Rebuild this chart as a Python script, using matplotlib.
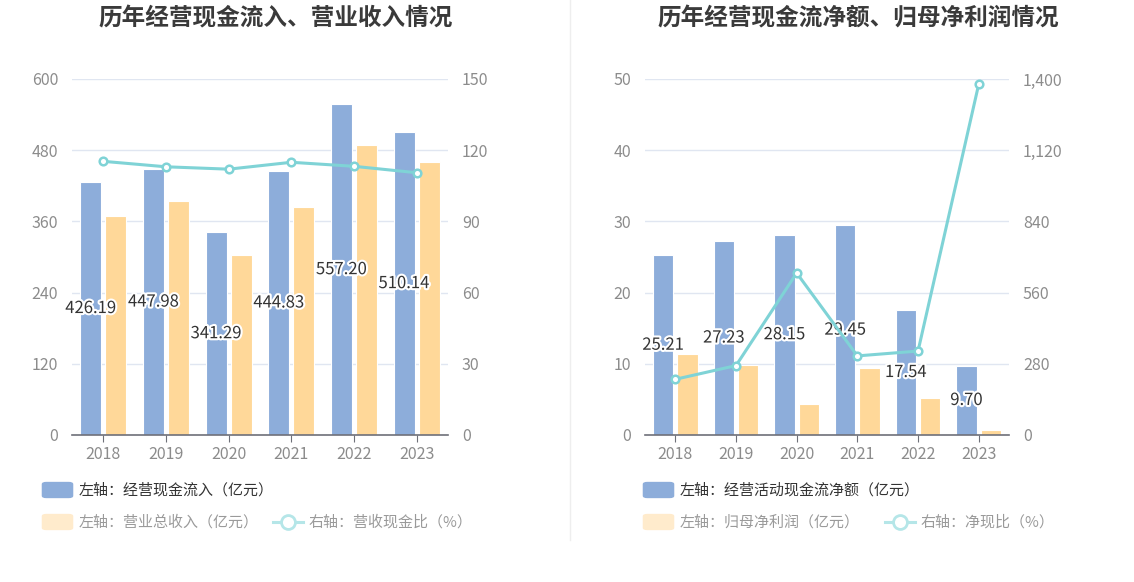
import matplotlib
matplotlib.use("Agg")
import matplotlib.pyplot as plt
import matplotlib.patheffects as pe
from matplotlib.patches import FancyBboxPatch
from matplotlib.lines import Line2D
import numpy as np

plt.rcParams['font.family'] = ['Noto Sans CJK SC', 'DejaVu Sans']

years = ["2018", "2019", "2020", "2021", "2022", "2023"]

# left chart
cash_inflow = [426.19, 447.98, 341.29, 444.83, 557.20, 510.14]
revenue = [369.0, 394.5, 303.5, 384.5, 489.0, 460.0]
inflow_ratio = [115.3, 113.0, 112.0, 114.9, 113.2, 110.5]

# right chart
net_cash = [25.21, 27.23, 28.15, 29.45, 17.54, 9.70]
net_profit = [11.4, 9.8, 4.35, 9.4, 5.24, 0.70]
net_ratio = [219, 273, 637, 311, 330, 1379]

BLUE = "#8DADDA"
YELLOW = "#FFD899"
CYAN = "#7FD3D6"
GRID = "#E0E6F1"
TICK = "#8C8C8C"

fig = plt.figure(figsize=(11.34, 5.82), dpi=100)


def panel(rect, bars1, bars2, line, lmax, rmax, rticks_fmt):
    ax = fig.add_axes(rect)
    x = np.arange(len(years))
    w = 0.335
    ax.bar(x - 0.2, bars1, w, color=BLUE, edgecolor="white", linewidth=0.8, zorder=2)
    ax.bar(x + 0.2, bars2, w, color=YELLOW, edgecolor="white", linewidth=0.8, zorder=2)
    ax.set_xlim(-0.5, len(years) - 0.5)
    ax.set_ylim(0, lmax)
    ax.set_yticks(np.linspace(0, lmax, 6))
    ax.set_yticklabels([f"{v:g}" for v in np.linspace(0, lmax, 6)])
    ax.set_xticks(x)
    ax.set_xticklabels(years)
    ax.grid(axis="y", color=GRID, linewidth=1, zorder=0)
    for s in ["top", "right", "left"]:
        ax.spines[s].set_visible(False)
    ax.spines["bottom"].set_color("#6E7079")
    ax.spines["bottom"].set_linewidth(1.2)
    ax.tick_params(axis="y", length=0, colors=TICK, labelsize=11.5, pad=10)
    ax.tick_params(axis="x", length=5, color="#6E7079", colors=TICK, labelsize=11.5, pad=3)
    for xi, v in zip(x, bars1):
        ax.text(xi - 0.2, v / 2, f"{v:.2f}", ha="center", va="center", fontsize=12,
                color="#333333", zorder=5,
                path_effects=[pe.withStroke(linewidth=3, foreground="white")])
    ax2 = ax.twinx()
    ax2.plot(x, line, color=CYAN, linewidth=2.2, marker="o", markersize=5.5,
             markerfacecolor="white", markeredgecolor=CYAN, markeredgewidth=1.8, zorder=4)
    ax2.set_ylim(0, rmax)
    rt = np.linspace(0, rmax, 6)
    ax2.set_yticks(rt)
    ax2.set_yticklabels([rticks_fmt(v) for v in rt])
    for s in ax2.spines.values():
        s.set_visible(False)
    ax2.tick_params(axis="y", length=0, colors=TICK, labelsize=11.5, pad=10)
    return ax


panel([0.0635, 0.2526, 0.3316, 0.6117], cash_inflow, revenue, inflow_ratio, 600, 150,
      lambda v: f"{v:g}")
panel([0.5688, 0.2526, 0.3210, 0.6117], net_cash, net_profit, net_ratio, 50, 1400,
      lambda v: f"{int(v):,}")

fig.text(276 / 1134, 1 - 18 / 582, "历年经营现金流入、营业收入情况", ha="center", va="center",
         fontsize=17, fontweight="bold", color="#3a3a3a")
fig.text(858 / 1134, 1 - 18 / 582, "历年经营现金流净额、归母净利润情况", ha="center", va="center",
         fontsize=17, fontweight="bold", color="#3a3a3a")

fig.add_artist(Line2D([570 / 1134, 570 / 1134], [1 - 0 / 582, 1 - 540 / 582],
                      color="#EEEEEE", linewidth=1))


def swatch(x0, yc, color):
    fig.add_artist(FancyBboxPatch(((x0 + 2) / 1134, 1 - (yc + 7) / 582), 27 / 1134, 14 / 582,
                                  boxstyle="round,pad=0.002,rounding_size=0.004",
                                  facecolor=color, edgecolor="none",
                                  transform=fig.transFigure))


def line_key(x0, yc):
    fig.add_artist(Line2D([x0 / 1134, (x0 + 30) / 1134], [1 - yc / 582, 1 - yc / 582],
                          color="#B5E6E8", linewidth=2.2))
    fig.add_artist(Line2D([(x0 + 15) / 1134], [1 - yc / 582], marker="o", markersize=10,
                          markerfacecolor="white", markeredgecolor="#B5E6E8",
                          markeredgewidth=2))


def legend(x0, line_x, t1, t2, t3):
    swatch(x0, 490, BLUE)
    fig.text((x0 + 37) / 1134, 1 - 490 / 582, t1, va="center", fontsize=10.8, color="#333333")
    swatch(x0, 522, "#FFEBCC")
    fig.text((x0 + 37) / 1134, 1 - 522 / 582, t2, va="center", fontsize=10.8, color="#9A9A9A")
    line_key(line_x, 522)
    fig.text((line_x + 36) / 1134, 1 - 522 / 582, t3, va="center", fontsize=10.8, color="#9A9A9A")


legend(42, 273, "左轴：经营现金流入（亿元）", "左轴：营业总收入（亿元）", "右轴：营收现金比（%）")
legend(643, 885, "左轴：经营活动现金流净额（亿元）", "左轴：归母净利润（亿元）", "右轴：净现比（%）")

fig.savefig("out.png", dpi=100)
